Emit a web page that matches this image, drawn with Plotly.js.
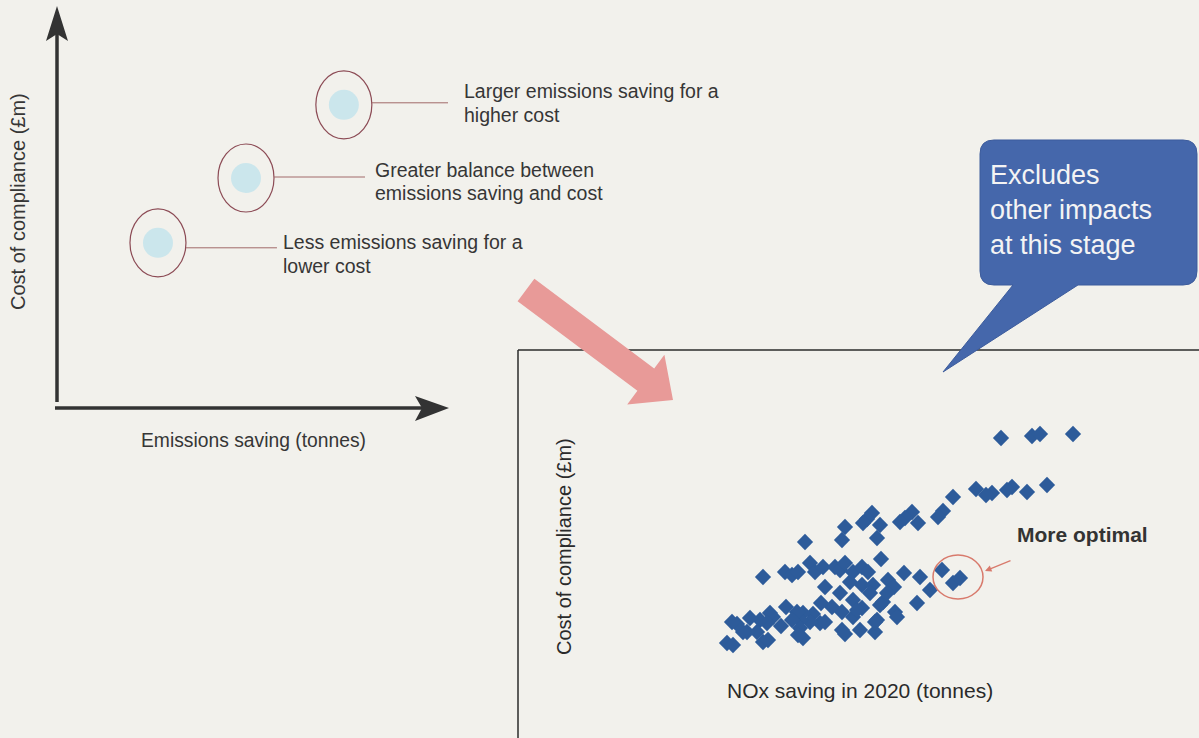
<!DOCTYPE html>
<html>
<head>
<meta charset="utf-8">
<script src="https://cdn.plot.ly/plotly-3.0.1.min.js"></script>
<style>html,body{margin:0;padding:0;background:#f2f1ec;}#chart{width:1199px;height:738px;}</style>
</head>
<body>
<div id="chart"></div>
<script>
// ---- Data ----
// Conceptual panel (arbitrary units, 0-10)
const conceptLabels = [
  ["Less emissions saving for a", "lower cost"],
  ["Greater balance between", "emissions saving and cost"],
  ["Larger emissions saving for a", "higher cost"]
];
const conceptSaving = [2.62, 4.86, 7.35];
const conceptCost = [4.13, 5.75, 7.58];

// Scatter: NOx saving in 2020 vs cost of compliance (unlabelled axes, arbitrary units)
const noxSaving = [483,514,522,555,529,509,494,489,474,468,458,435,425,420,394,387,382,400,354,349,
  345,362,359,327,324,287,363,245,267,274,280,292,297,305,307,317,322,327,332,335,
  344,344,350,355,370,376,386,402,412,424,435,442,399,365,377,379,359,357,352,344,
  335,335,339,324,322,324,327,314,303,302,307,295,292,285,282,279,285,282,280,274,
  268,263,255,252,249,245,250,242,239,232,229,225,219,214,209,215,369,362,342,357];
const complianceCost = [300,302,304,304,253,246,251,248,245,243,249,241,227,221,226,220,216,215,225,219,
  215,213,200,211,198,196,179,161,166,163,166,175,166,171,151,171,168,175,156,166,
  171,153,166,153,158,151,165,161,148,168,155,160,135,136,126,121,118,106,145,130,
  138,121,128,126,145,108,104,131,135,115,116,124,116,125,118,126,100,110,103,118,
  131,112,121,125,115,96,98,118,106,120,106,106,114,116,95,93,145,133,108,116];

const leftYTitle = "Cost of compliance (£m)";
const leftXTitle = "Emissions saving (tonnes)";
const scatterYTitle = "Cost of compliance (£m)";
const scatterXTitle = "NOx saving in 2020 (tonnes)";
const calloutText = "Excludes<br>other impacts<br>at this stage";
const highlightText = "More optimal";

// ---- Layout helpers (pixel -> paper) ----
const W = 1199, H = 738;
const px = x => x / W;
const py = y => 1 - y / H;
const P = (x, y) => px(x).toFixed(5) + ',' + py(y).toFixed(5);
const FONT = 'Arial, "Liberation Sans", sans-serif';
const TXT = '#363636';

const traces = [
  {
    type: 'scatter', mode: 'markers', x: noxSaving, y: complianceCost,
    xaxis: 'x', yaxis: 'y', cliponaxis: false,
    marker: {symbol: 'diamond', size: 12.5, color: '#2d5b9a', line: {width: 0}},
    hoverinfo: 'x+y', showlegend: false
  },
  {
    type: 'scatter', mode: 'markers', x: conceptSaving, y: conceptCost,
    xaxis: 'x2', yaxis: 'y2', cliponaxis: false,
    marker: {symbol: 'circle', size: 30, color: '#cbe6ec', line: {width: 0}},
    text: conceptLabels.map(l => l.join(' ')), hoverinfo: 'text', showlegend: false
  }
];

const shapes = [];
// scatter frame (top + left edges)
shapes.push({type: 'line', xref: 'paper', yref: 'paper', x0: px(518), x1: px(1199), y0: py(350), y1: py(350), line: {color: '#2b2b2b', width: 1.5}});
shapes.push({type: 'line', xref: 'paper', yref: 'paper', x0: px(518), x1: px(518), y0: py(350), y1: py(738), line: {color: '#2b2b2b', width: 1.5}});

// conceptual axes with arrow heads
shapes.push({type: 'line', xref: 'paper', yref: 'paper', x0: px(57), x1: px(57), y0: py(402), y1: py(30), line: {color: '#333', width: 3.5}});
shapes.push({type: 'path', xref: 'paper', yref: 'paper', path: 'M' + P(57, 6) + ' L' + P(46, 41) + ' L' + P(57, 34) + ' L' + P(68, 41) + ' Z', fillcolor: '#333', line: {width: 0}});
shapes.push({type: 'line', xref: 'paper', yref: 'paper', x0: px(55), x1: px(425), y0: py(408), y1: py(408), line: {color: '#333', width: 3.5}});
shapes.push({type: 'path', xref: 'paper', yref: 'paper', path: 'M' + P(449, 408) + ' L' + P(415, 396) + ' L' + P(422, 408) + ' L' + P(415, 421) + ' Z', fillcolor: '#333', line: {width: 0}});

// ellipses and connector lines around the conceptual points
const connectorLen = [119, 119, 111];
const connectorDy = [-5, 1, 2];
conceptSaving.forEach((xv, i) => {
  shapes.push({type: 'circle', xref: 'x2', yref: 'y2', xsizemode: 'pixel', ysizemode: 'pixel',
    xanchor: xv, yanchor: conceptCost[i], x0: -28, x1: 28, y0: -34, y1: 34,
    line: {color: '#8c4b55', width: 1.2}, fillcolor: 'rgba(0,0,0,0)'});
  shapes.push({type: 'line', xref: 'x2', yref: 'y2', xsizemode: 'pixel', ysizemode: 'pixel',
    xanchor: xv, yanchor: conceptCost[i], x0: 28, x1: connectorLen[i], y0: connectorDy[i], y1: connectorDy[i],
    line: {color: '#a26a6a', width: 1}});
});

// highlight ellipse (in scatter data space)
shapes.push({type: 'circle', xref: 'x', yref: 'y', x0: 415, x1: 465, y0: 139, y1: 183,
  line: {color: '#d87a6c', width: 1.5}, fillcolor: 'rgba(0,0,0,0)'});

// pink block arrow
shapes.push({type: 'path', xref: 'paper', yref: 'paper',
  path: 'M' + P(534.4, 278.8) + ' L' + P(654.2, 368.4) + ' L' + P(664.4, 354.8) + ' L' + P(673, 400) +
        ' L' + P(627.2, 404.4) + ' L' + P(637.4, 390.8) + ' L' + P(517.6, 301.2) + ' Z',
  fillcolor: '#e89a98', line: {width: 0}});

// blue callout
const r = 14, L = 980, R = 1197, T = 140, B = 285;
shapes.push({type: 'path', xref: 'paper', yref: 'paper',
  path: 'M' + P(L + r, T) + ' L' + P(R - r, T) + ' Q' + P(R, T) + ' ' + P(R, T + r) +
        ' L' + P(R, B - r) + ' Q' + P(R, B) + ' ' + P(R - r, B) +
        ' L' + P(1078, B) + ' L' + P(943, 372) + ' L' + P(1013, B) +
        ' L' + P(L + r, B) + ' Q' + P(L, B) + ' ' + P(L, B - r) +
        ' L' + P(L, T + r) + ' Q' + P(L, T) + ' ' + P(L + r, T) + ' Z',
  fillcolor: '#4567ab', line: {color: '#3d5c9c', width: 1}});

// label line positions: [left x, first-line y, second-line y]
const labelPos = [[281, 242, 266], [373, 170, 193], [462, 91, 115]];
const annotations = [];
conceptLabels.forEach((lines, i) => {
  lines.forEach((t, j) => {
    annotations.push({xref: 'paper', yref: 'paper', x: px(labelPos[i][0]), y: py(labelPos[i][1 + j]),
      xanchor: 'left', yanchor: 'middle', align: 'left', showarrow: false, text: t,
      font: {family: FONT, size: 19.5, color: TXT}});
  });
});
annotations.push({xref: 'paper', yref: 'paper', x: px(18), y: py(202), textangle: -90, showarrow: false,
  xanchor: 'center', yanchor: 'middle', text: leftYTitle, font: {family: FONT, size: 20, color: TXT}});
annotations.push({xref: 'paper', yref: 'paper', x: px(253), y: py(440), showarrow: false,
  xanchor: 'center', yanchor: 'middle', text: leftXTitle, font: {family: FONT, size: 19.3, color: TXT}});
annotations.push({xref: 'paper', yref: 'paper', x: px(564), y: py(547), textangle: -90, showarrow: false,
  xanchor: 'center', yanchor: 'middle', text: scatterYTitle, font: {family: FONT, size: 20, color: '#2a2a2a'}});
annotations.push({xref: 'paper', yref: 'paper', x: px(860), y: py(690), showarrow: false,
  xanchor: 'center', yanchor: 'middle', text: scatterXTitle, font: {family: FONT, size: 21, color: '#2a2a2a'}});
annotations.push({xref: 'paper', yref: 'paper', x: px(1082), y: py(534), showarrow: false,
  xanchor: 'center', yanchor: 'middle', text: '<b>' + highlightText + '</b>', font: {family: FONT, size: 21, color: '#333'}});
annotations.push({xref: 'paper', yref: 'paper', x: px(985), y: py(571), showarrow: true, text: '',
  ax: 27, ay: -11, arrowhead: 2, arrowsize: 1, arrowwidth: 1.3, arrowcolor: '#d87a6c'});
annotations.push({xref: 'paper', yref: 'paper', x: px(988), y: py(210), showarrow: false,
  xanchor: 'left', yanchor: 'middle', align: 'left', text: calloutText, font: {family: FONT, size: 27, color: '#f4f4f4'}});

const layout = {
  width: W, height: H,
  margin: {l: 0, r: 0, t: 0, b: 0, pad: 0},
  paper_bgcolor: '#f2f1ec', plot_bgcolor: 'rgba(0,0,0,0)',
  showlegend: false,
  xaxis: {domain: [518 / W, 1], range: [0, 681], visible: false, fixedrange: true},
  yaxis: {domain: [0, 388 / H], range: [0, 388], visible: false, fixedrange: true},
  xaxis2: {domain: [55 / W, 448 / W], range: [0, 10], visible: false, anchor: 'y2', fixedrange: true},
  yaxis2: {domain: [1 - 408 / H, 1 - 8 / H], range: [0, 10], visible: false, anchor: 'x2', fixedrange: true},
  shapes: shapes,
  annotations: annotations
};

Plotly.newPlot('chart', traces, layout, {displayModeBar: false, staticPlot: true});
</script>
</body>
</html>
